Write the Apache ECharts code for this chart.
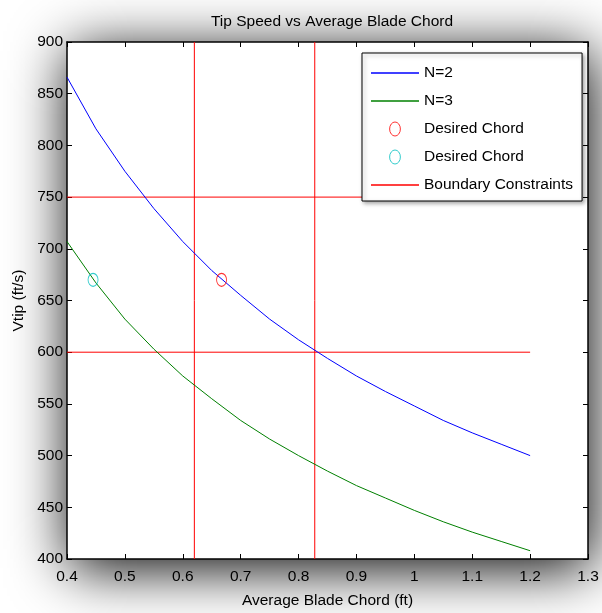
<!DOCTYPE html>
<html>
<head>
<meta charset="utf-8">
<script src="https://cdn.jsdelivr.net/npm/echarts@6/dist/echarts.min.js"></script>
<style>html,body{margin:0;padding:0;background:#fff;}#c{width:602px;height:613px;}</style>
</head>
<body>
<div id="c"></div>
<script>
var chordX = [0.40,0.45,0.50,0.55,0.60,0.65,0.70,0.75,0.80,0.85,0.90,0.95,1.00,1.05,1.10,1.15,1.20];
var vtipN2 = [866,816,775,739,707,679,655,632,612,594,577,562,548,534,522,511,500];
var vtipN3 = [707,667,632,603,577,555,534,516,500,485,471,459,447,436,426,417,408];
var desiredN2 = [[0.667, 670]];
var desiredN3 = [[0.445, 670]];
var boundV = [600, 750];
var boundChord = [0.62, 0.828];
var boundXRange = [0.4, 1.2];
var boundYRange = [400, 900];
var xTicks = {min: 0.4, max: 1.3, interval: 0.1};
var yTicks = {min: 400, max: 900, interval: 50};

var FONT = 'Liberation Sans, Arial, Helvetica, sans-serif';
function pairs(xs, ys){ return xs.map(function(x,i){ return [x, ys[i]]; }); }

var ell = 'path://M0,6.5 A5,6.5 0 1,0 10,6.5 A5,6.5 0 1,0 0,6.5 Z';
var lineIcon = 'path://M0,0 H48 V1.4 H0 Z';

var series = [
  {name:'N=2', type:'line', data: pairs(chordX, vtipN2), symbol:'none',
   lineStyle:{color:'#0000ff', width:1}, itemStyle:{color:'#0000ff'}, z:5},
  {name:'N=3', type:'line', data: pairs(chordX, vtipN3), symbol:'none',
   lineStyle:{color:'#008000', width:1}, itemStyle:{color:'#008000'}, z:5},
  {name:'Desired Chord', type:'scatter', data: desiredN2, symbol:ell, symbolSize:[10,13],
   itemStyle:{color:'rgba(0,0,0,0)', borderColor:'#ff0000', borderWidth:1}, z:6},
  {name:'Desired Chord ', type:'scatter', data: desiredN3, symbol:ell, symbolSize:[10,13],
   itemStyle:{color:'rgba(0,0,0,0)', borderColor:'#00bfbf', borderWidth:1}, z:6}
];
boundV.forEach(function(v){
  series.push({name:'Boundary Constraints', type:'line', symbol:'none',
    data:[[boundXRange[0], v],[boundXRange[1], v]],
    lineStyle:{color:'#ff0000', width:1}, itemStyle:{color:'#ff0000'}, z:3});
});
boundChord.forEach(function(c){
  series.push({name:'Boundary Constraints', type:'line', symbol:'none',
    data:[[c, boundYRange[0]],[c, boundYRange[1]]],
    lineStyle:{color:'#ff0000', width:1}, itemStyle:{color:'#ff0000'}, z:3});
});

var axisCommon = {
  axisLine:{show:true, lineStyle:{color:'#000', width:1.5}},
  axisTick:{show:true, inside:true, length:5, lineStyle:{color:'#000', width:1}},
  splitLine:{show:false}
};

var option = {
  animation:false,
  backgroundColor:'#fff',
  textStyle:{fontFamily:FONT},
  title:{text:'Tip Speed vs Average Blade Chord', left:327, top:9, textAlign:'center',
    textStyle:{fontFamily:FONT, fontSize:15.5, fontWeight:'normal', color:'#000'}},
  grid:{left:67, top:42, right:14, bottom:54, show:true, backgroundColor:'#fff',
    borderWidth:0, shadowBlur:55, shadowColor:'rgba(0,0,0,1)', shadowOffsetX:3, shadowOffsetY:9,
    outerBoundsMode:'none'},
  legend:{left:362, top:53, orient:'vertical', padding:[12,9,8,9], itemWidth:48, itemHeight:14, itemGap:12,
    itemTextGap:5, backgroundColor:'#fff', borderColor:'#000', borderWidth:1,
    shadowBlur:4, shadowColor:'rgba(0,0,0,0.35)', shadowOffsetX:2, shadowOffsetY:2,
    textStyle:{fontFamily:FONT, fontSize:15.5, color:'#000'},
    data:[
      {name:'N=2', icon:lineIcon, itemStyle:{color:'#0000ff', borderWidth:0}},
      {name:'N=3', icon:lineIcon, itemStyle:{color:'#008000', borderWidth:0}},
      {name:'Desired Chord', icon:ell, itemStyle:{color:'rgba(0,0,0,0)', borderColor:'#ff0000', borderWidth:1}},
      {name:'Desired Chord ', icon:ell, itemStyle:{color:'rgba(0,0,0,0)', borderColor:'#00bfbf', borderWidth:1}},
      {name:'Boundary Constraints', icon:lineIcon, itemStyle:{color:'#ff0000', borderWidth:0}}
    ]},
  xAxis:[
    Object.assign({type:'value', position:'bottom', min:xTicks.min, max:xTicks.max, interval:xTicks.interval,
      name:'Average Blade Chord (ft)', nameLocation:'middle', nameGap:34,
      nameTextStyle:{fontFamily:FONT, fontSize:15.5, color:'#000'},
      axisLabel:{fontFamily:FONT, fontSize:15.5, color:'#000', margin:10}}, axisCommon),
    Object.assign({type:'value', position:'top', min:xTicks.min, max:xTicks.max, interval:xTicks.interval,
      axisLabel:{show:false}}, axisCommon)
  ],
  yAxis:[
    Object.assign({type:'value', position:'left', min:yTicks.min, max:yTicks.max, interval:yTicks.interval,
      name:'Vtip (ft/s)', nameLocation:'middle', nameGap:40,
      nameTextStyle:{fontFamily:FONT, fontSize:15.5, color:'#000'},
      axisLabel:{fontFamily:FONT, fontSize:15.5, color:'#000', margin:4}}, axisCommon),
    Object.assign({type:'value', position:'right', min:yTicks.min, max:yTicks.max, interval:yTicks.interval,
      axisLabel:{show:false}}, axisCommon)
  ],
  series: series
};
var chart = echarts.init(document.getElementById('c'), null, {renderer:'canvas'});
chart.setOption(option);
</script>
</body>
</html>
